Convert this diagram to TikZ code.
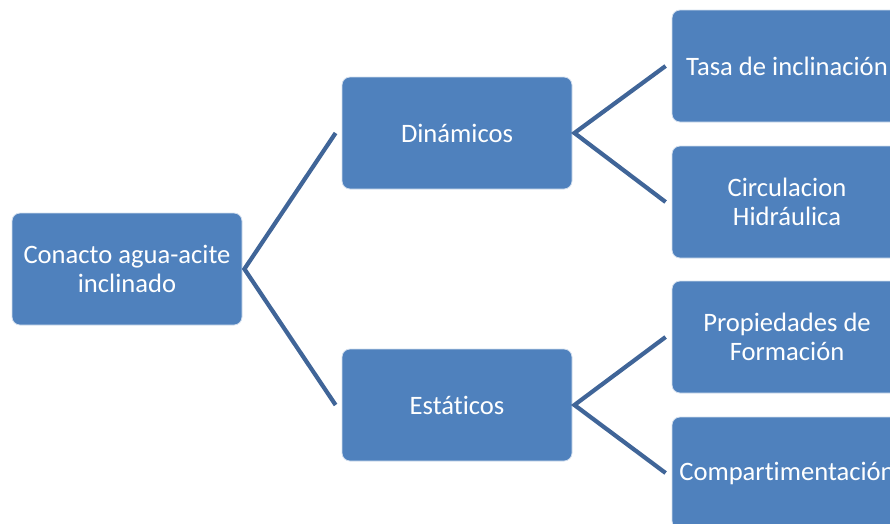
\documentclass[tikz,border=0pt]{standalone}
\usepackage{fontspec}
\setmainfont{Carlito}[Ligatures=NoCommon]
\usepackage{xcolor}
\definecolor{boxblue}{RGB}{79,129,189}
\definecolor{linkblue}{RGB}{64,101,152}

\begin{document}
\begin{tikzpicture}[x=1pt,y=1pt,
  box/.style={draw=white!75!boxblue,line width=0.8pt,fill=boxblue,rounded corners=8pt,minimum width=230pt,minimum height=112pt,inner sep=0pt,text=white,align=center,font=\fontsize{26.6}{28.8}\selectfont},
  link/.style={draw=linkblue,line width=4.2pt,line join=miter}]
\useasboundingbox (0,0) rectangle (890,-523);
\clip (0,0) rectangle (890,-523);
\node[box] (root) at (127,-269) {Conacto agua-acite\\inclinado};

%dinamicos branch
\node[box] (din) at (457,-133) {Din\'amicos};
\node[box] (tasa) at (787,-66) {Tasa de inclinaci\'on};
\node[box] (circ) at (787,-202) {Circulacion\\Hidr\'aulica};

%estaticos branch
\node[box] (est) at (457,-405) {Est\'aticos};
\node[box] (prop) at (787,-337) {Propiedades de\\Formaci\'on};
\node[box] (comp) at (787,-473) {Compartimentaci\'on};

%links
\draw[link] ([xshift=-6pt]din.west)--([xshift=2pt]root.east)--([xshift=-6pt]est.west);
\draw[link] ([xshift=-6pt]tasa.west)--([xshift=2pt]din.east)--([xshift=-6pt]circ.west);
\draw[link] ([xshift=-6pt]prop.west)--([xshift=2pt]est.east)--([xshift=-6pt]comp.west);
\end{tikzpicture}
\end{document}
